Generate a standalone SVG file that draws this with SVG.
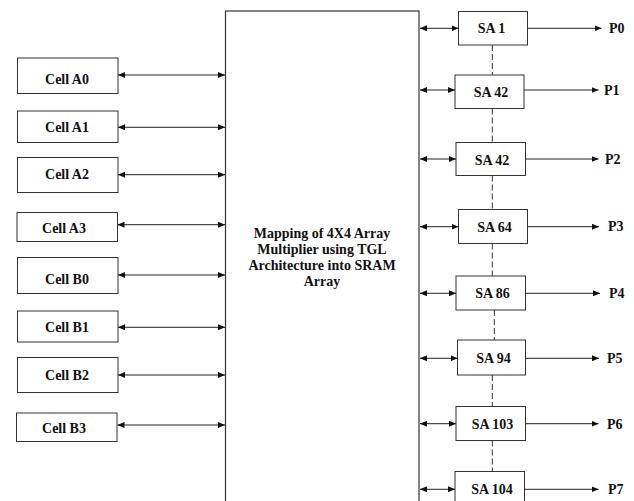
<svg xmlns="http://www.w3.org/2000/svg" width="634" height="501" viewBox="0 0 634 501">
<style>
.box{fill:#fff;stroke:#333;stroke-width:1}
.big{fill:#fff;stroke:#333;stroke-width:1.2}
.t{font-family:"Liberation Serif","Times New Roman",serif;font-weight:bold;font-size:14px;fill:#111}
.c{text-anchor:middle}
.ln{stroke:#222;stroke-width:1;fill:none}
.dash{stroke:#333;stroke-width:1;stroke-dasharray:6,3;fill:none}
</style>
<defs>
<marker id="ah" markerUnits="userSpaceOnUse" markerWidth="7" markerHeight="6" refX="7" refY="3" orient="auto-start-reverse">
<path d="M0,0 L7,3 L0,6 z" fill="#111"/>
</marker>
</defs>
<g id="mapping">
<rect class="big" x="225.5" y="11" width="193.5" height="510"/>
<text class="t c" x="322" y="238">Mapping of 4X4 Array</text>
<text class="t c" x="322" y="254">Multiplier using TGL</text>
<text class="t c" x="322" y="270">Architecture into SRAM</text>
<text class="t c" x="322" y="286">Array</text>
</g>
<g id="cellA0"><rect class="box" x="17.5" y="58" width="100.5" height="35.5"/><text class="t c" x="67" y="84">Cell A0</text></g>
<g id="cellA1"><rect class="box" x="17.5" y="111" width="100.5" height="31.5"/><text class="t c" x="67" y="131.5">Cell A1</text></g>
<g id="cellA2"><rect class="box" x="17.5" y="157.5" width="100.5" height="35"/><text class="t c" x="67" y="179">Cell A2</text></g>
<g id="cellA3"><rect class="box" x="17" y="212.5" width="100.5" height="29"/><text class="t c" x="64" y="233">Cell A3</text></g>
<g id="cellB0"><rect class="box" x="17.5" y="257.5" width="100.5" height="36"/><text class="t c" x="67" y="284">Cell B0</text></g>
<g id="cellB1"><rect class="box" x="17.5" y="311" width="100.5" height="31"/><text class="t c" x="67" y="332">Cell B1</text></g>
<g id="cellB2"><rect class="box" x="17.5" y="357.5" width="100.5" height="35"/><text class="t c" x="67" y="380">Cell B2</text></g>
<g id="cellB3"><rect class="box" x="16.5" y="413" width="100.5" height="28.5"/><text class="t c" x="64" y="433">Cell B3</text></g>
<g id="sa1"><rect class="box" x="458.5" y="11.5" width="69" height="33.5"/><text class="t c" x="491.5" y="33">SA 1</text></g>
<g id="sa42a"><rect class="box" x="455" y="75" width="69" height="33.5"/><text class="t c" x="491" y="96.5">SA 42</text></g>
<g id="sa42b"><rect class="box" x="456" y="142.5" width="69.5" height="33"/><text class="t c" x="492" y="164.5">SA 42</text></g>
<g id="sa64"><rect class="box" x="458.5" y="209.5" width="69" height="34"/><text class="t c" x="494.5" y="231.5">SA 64</text></g>
<g id="sa86"><rect class="box" x="456" y="276" width="69.5" height="34"/><text class="t c" x="492.5" y="298">SA 86</text></g>
<g id="sa94"><rect class="box" x="457.5" y="340" width="68" height="35"/><text class="t c" x="493.5" y="363">SA 94</text></g>
<g id="sa103"><rect class="box" x="456" y="406.5" width="69.5" height="34"/><text class="t c" x="492.5" y="429">SA 103</text></g>
<g id="sa104"><rect class="box" x="455" y="471.5" width="69.5" height="40"/><text class="t c" x="492" y="494">SA 104</text></g>
<g id="outputs">
<text class="t" x="609" y="33">P0</text>
<text class="t" x="604" y="95">P1</text>
<text class="t" x="605" y="164">P2</text>
<text class="t" x="608" y="231">P3</text>
<text class="t" x="609" y="298">P4</text>
<text class="t" x="607" y="363">P5</text>
<text class="t" x="607" y="428.5">P6</text>
<text class="t" x="608" y="494">P7</text>
</g>
<g id="connectors">
<line class="ln" x1="118" y1="75" x2="225" y2="75" marker-start="url(#ah)" marker-end="url(#ah)"/>
<line class="ln" x1="118" y1="127.3" x2="225" y2="127.3" marker-start="url(#ah)" marker-end="url(#ah)"/>
<line class="ln" x1="118" y1="174.7" x2="225" y2="174.7" marker-start="url(#ah)" marker-end="url(#ah)"/>
<line class="ln" x1="117.5" y1="224.7" x2="225" y2="224.7" marker-start="url(#ah)" marker-end="url(#ah)"/>
<line class="ln" x1="118" y1="275" x2="225" y2="275" marker-start="url(#ah)" marker-end="url(#ah)"/>
<line class="ln" x1="118" y1="327.3" x2="225" y2="327.3" marker-start="url(#ah)" marker-end="url(#ah)"/>
<line class="ln" x1="118" y1="375" x2="225" y2="375" marker-start="url(#ah)" marker-end="url(#ah)"/>
<line class="ln" x1="117.5" y1="425" x2="225" y2="425" marker-start="url(#ah)" marker-end="url(#ah)"/>
<line class="ln" x1="420" y1="28.3" x2="458.5" y2="28.3" marker-start="url(#ah)" marker-end="url(#ah)"/>
<line class="ln" x1="420" y1="90" x2="455" y2="90" marker-start="url(#ah)" marker-end="url(#ah)"/>
<line class="ln" x1="420" y1="159" x2="456" y2="159" marker-start="url(#ah)" marker-end="url(#ah)"/>
<line class="ln" x1="420" y1="226.7" x2="458.5" y2="226.7" marker-start="url(#ah)" marker-end="url(#ah)"/>
<line class="ln" x1="420" y1="293.3" x2="456" y2="293.3" marker-start="url(#ah)" marker-end="url(#ah)"/>
<line class="ln" x1="420" y1="358.3" x2="457.5" y2="358.3" marker-start="url(#ah)" marker-end="url(#ah)"/>
<line class="ln" x1="420" y1="423.7" x2="456" y2="423.7" marker-start="url(#ah)" marker-end="url(#ah)"/>
<line class="ln" x1="420" y1="489.3" x2="455" y2="489.3" marker-start="url(#ah)" marker-end="url(#ah)"/>
<line class="ln" x1="527.5" y1="28.3" x2="601.5" y2="28.3" marker-end="url(#ah)"/>
<line class="ln" x1="524" y1="90" x2="598.5" y2="90" marker-end="url(#ah)"/>
<line class="ln" x1="525.5" y1="159" x2="598.5" y2="159" marker-end="url(#ah)"/>
<line class="ln" x1="527.5" y1="226.7" x2="599" y2="226.7" marker-end="url(#ah)"/>
<line class="ln" x1="525.5" y1="293.3" x2="600" y2="293.3" marker-end="url(#ah)"/>
<line class="ln" x1="525.5" y1="358.3" x2="599" y2="358.3" marker-end="url(#ah)"/>
<line class="ln" x1="525.5" y1="423.7" x2="598.5" y2="423.7" marker-end="url(#ah)"/>
<line class="ln" x1="524.5" y1="489.3" x2="598.5" y2="489.3" marker-end="url(#ah)"/>
<line class="dash" x1="492.3" y1="45" x2="492.3" y2="75"/>
<line class="dash" x1="492.3" y1="108.5" x2="492.3" y2="142.5"/>
<line class="dash" x1="492.3" y1="175.5" x2="492.3" y2="209.5"/>
<line class="dash" x1="492.3" y1="243.5" x2="492.3" y2="276"/>
<line class="dash" x1="494.3" y1="310" x2="494.3" y2="340"/>
<line class="dash" x1="492.3" y1="375" x2="492.3" y2="406.5"/>
<line class="dash" x1="492.3" y1="440.5" x2="492.3" y2="471.5"/>
</g>
</svg>
